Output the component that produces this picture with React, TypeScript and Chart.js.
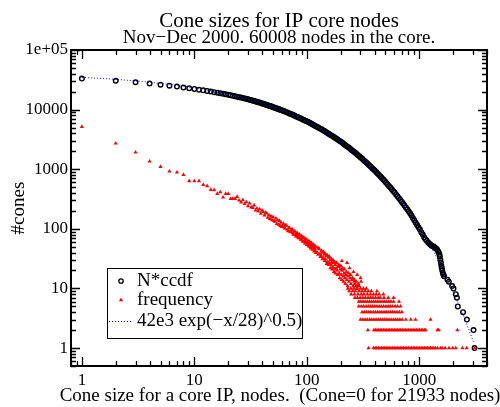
import React, { useEffect, useRef } from 'react';
import { Chart, registerables } from 'chart.js';

Chart.register(...registerables);

const titleText = 'Cone sizes for IP core nodes';
const subtitleText = 'Nov\u2212Dec 2000. 60008 nodes in the core.';
const xTitleText = 'Cone size for a core IP, nodes.  (Cone=0 for 21933 nodes)';
const yTitleText = '#cones';
const legendLabels = ['N*ccdf', 'frequency', '42e3 exp(\u2212x/28)^0.5)'];

const xTickValues = [1, 10, 100, 1000];
const xTickLabels = ['1', '10', '100', '1000'];
const yTickValues = [1, 10, 100, 1000, 10000, 100000];
const yTickLabels = ['1', '10', '100', '1000', '10000', '1e+05'];

// N*ccdf (black open circles)
const ccdfPoints: [number, number][] = [
  [1, 33200], [2, 30500], [3, 28800], [4, 27400], [5, 26200], [6, 25200], [7, 24300], [8, 23500],
  [9, 22800], [10, 22200], [11, 21600], [12, 21050], [13, 20550], [14, 20050], [15, 19600], [16, 19180],
  [17, 18780], [18, 18400], [19, 18040], [20, 17700], [21, 17380], [22, 17060], [23, 16760], [24, 16470],
  [25, 16190], [26, 15920], [27, 15660], [28, 15410], [29, 15180], [30, 14920], [31, 14670], [32, 14420],
  [33, 14180], [34, 13950], [35, 13730], [36, 13510], [37, 13310], [38, 13100], [39, 12900], [40, 12710],
  [41, 12520], [42, 12340], [43, 12160], [44, 11990], [45, 11820], [46, 11660], [47, 11500], [48, 11340],
  [49, 11190], [50, 11040], [51, 10900], [52, 10750], [53, 10610], [54, 10470], [55, 10340], [56, 10210],
  [57, 10080], [58, 9960], [60, 9720], [62, 9480], [64, 9260], [66, 9050], [68, 8840], [70, 8640],
  [72, 8450], [74, 8270], [76, 8090], [78, 7910], [80, 7700], [83, 7500], [85, 7310], [88, 7130],
  [90, 6960], [93, 6790], [95, 6630], [98, 6470], [101, 6290], [104, 6110], [107, 5950], [110, 5790],
  [113, 5640], [116, 5490], [119, 5330], [123, 5170], [126, 5020], [130, 4870], [134, 4710], [138, 4560],
  [142, 4420], [146, 4280], [150, 4130], [155, 3990], [159, 3860], [164, 3730], [169, 3600], [174, 3470],
  [179, 3350], [184, 3240], [189, 3120], [195, 3000], [201, 2880], [207, 2770], [213, 2660], [219, 2560],
  [225, 2460], [232, 2360], [239, 2260], [246, 2170], [253, 2070], [261, 1980], [268, 1900], [276, 1820],
  [284, 1730], [293, 1650], [301, 1580], [310, 1510], [319, 1430], [329, 1360], [338, 1300], [348, 1240],
  [358, 1170], [369, 1110], [380, 1050], [391, 1000], [402, 948], [414, 898], [426, 848], [439, 800],
  [452, 756], [465, 714], [479, 672], [493, 632], [507, 595], [522, 560], [537, 525], [553, 493],
  [569, 462], [586, 433], [603, 405], [621, 378], [639, 353], [658, 330], [677, 307], [697, 286],
  [717, 266], [738, 247], [760, 229], [782, 213], [805, 197], [828, 183], [852, 168], [877, 152],
  [903, 139], [929, 127], [956, 116], [984, 106], [1013, 97], [1042, 88], [1073, 80], [1104, 72],
  [1135, 67], [1165, 63], [1200, 59], [1230, 56], [1260, 54], [1290, 52], [1320, 51], [1350, 50],
  [1380, 48], [1410, 47], [1440, 45], [1470, 42], [1490, 40], [1510, 37], [1525, 34], [1540, 30],
  [1555, 27], [1570, 24], [1585, 22], [1600, 20], [1620, 18], [1640, 17], [1660, 16], [1780, 14],
  [1830, 13], [1960, 11], [2015, 10], [2110, 8], [2160, 7], [2200, 5], [2450, 4], [2650, 3],
  [3035, 2], [3100, 1],
];

// frequency (red triangles), scattered part
const freqPoints: [number, number][] = [
  [1, 5170], [2, 2720], [3, 1920], [4, 1357], [5, 1100], [6, 921], [7, 887], [8, 808], [9, 634],
  [10, 634], [11, 634], [12, 550], [13, 523], [14, 453], [15, 448], [16, 388], [17, 414], [18, 337],
  [19, 388], [20, 388], [21, 320], [22, 320], [23, 320], [24, 345], [25, 300], [26, 280], [27, 305],
  [28, 262], [29, 281], [30, 240], [31, 268], [32, 230], [33, 226], [34, 249], [35, 205], [36, 221],
  [37, 196], [38, 214], [39, 180], [40, 203], [41, 193], [42, 168], [43, 187], [44, 182], [45, 154],
  [46, 170], [47, 148], [48, 164], [49, 141], [50, 158], [51, 136], [52, 133], [53, 150], [54, 121],
  [55, 140], [56, 118], [57, 137], [58, 112], [59, 128], [60, 108], [61, 112], [62, 122], [63, 106],
  [64, 101], [65, 115], [66, 113], [67, 97], [68, 92], [69, 103], [70, 104], [71, 90], [72, 88],
  [73, 96], [74, 99], [75, 85], [76, 80], [77, 90], [78, 91], [79, 80], [80, 75], [81, 82], [82, 86],
  [83, 74], [84, 70], [85, 79], [86, 81], [87, 70], [88, 66], [89, 72], [90, 76], [91, 65], [92, 61],
  [93, 70], [94, 72], [95, 62], [96, 57], [97, 63], [98, 68], [99, 58], [100, 54], [101, 60], [102, 64],
  [103, 55], [104, 51], [105, 56], [106, 61], [107, 50], [108, 47], [109, 54], [110, 58], [111, 49],
  [112, 45], [113, 50], [114, 55], [115, 46], [116, 42], [117, 47], [118, 52], [119, 43], [120, 40],
  [123, 49], [124, 40], [126, 37], [127, 47], [129, 46], [131, 38], [132, 34], [134, 35], [135, 43],
  [137, 40], [138, 31], [140, 33], [141, 41], [143, 37], [144, 29], [146, 31], [147, 38], [149, 35],
  [150, 26], [152, 28], [153, 36], [155, 33], [156, 25], [158, 27], [159, 34], [161, 30], [162, 22],
  [164, 25], [165, 31], [167, 28], [168, 21], [170, 23], [171, 30], [173, 27], [174, 19], [176, 21],
  [177, 28], [179, 25], [180, 18], [182, 22], [184, 27], [186, 20], [188, 17], [190, 23], [192, 25],
  [194, 18], [196, 15], [198, 21], [200, 24], [202, 17], [204, 14], [205, 29], [206, 20], [208, 22],
  [210, 16], [212, 13], [214, 18], [216, 21], [218, 15], [220, 12], [222, 17], [225, 19], [227, 14],
  [228, 27], [230, 11], [232, 16], [235, 18], [237, 13], [240, 22], [242, 15], [245, 17], [247, 12],
  [252, 14], [255, 15], [258, 11], [260, 19], [263, 13], [265, 14], [268, 12], [273, 11], [276, 13],
  [279, 10], [280, 17], [282, 11], [288, 12], [291, 11], [300, 15], [304, 13],
];

// frequency, integer levels in the sparse tail (x positions per count)
const freqAt10X = [232, 246, 262, 280, 300, 318, 338];
const freqAt9X = [238, 255, 270, 292, 310, 330, 352, 375, 420];
const freqAt8X = [248, 265, 285, 305, 322, 345, 368, 392, 415, 440, 480];
const freqAt7X = [268, 282, 298, 315, 332, 350, 368, 388, 408, 430, 450, 485, 530, 590];
const freqAt6X = [290, 302, 316, 330, 345, 360, 376, 392, 410, 428, 447, 467, 488, 510, 535, 560, 590, 660];
const freqAt5X = [290, 305, 320, 336, 352, 368, 385, 402, 420, 440, 460, 482, 505, 528, 552, 578, 610, 640, 680];
const freqAt4X = [310, 325, 340, 356, 372, 390, 408, 426, 445, 465, 486, 508, 530, 555, 580, 607, 635, 665, 700];
const freqAt3X = [300, 315, 330, 345, 362, 378, 395, 413, 432, 451, 472, 493, 515, 538, 562, 588, 615, 643, 672, 705, 760, 840, 925, 1260];
const freqAt2X = [349, 395, 408, 421, 435, 449, 464, 479, 495, 511, 528, 545, 563, 582, 601, 621, 641, 662, 684, 706, 730, 754, 778, 804, 830, 858, 886, 915, 945, 976, 1008, 1041, 1075, 1110, 1140, 1450, 1490, 2180];
const freqAt1X = [354, 392, 405, 418, 432, 446, 461, 476, 492, 508, 525, 542, 560, 579, 598, 618, 638, 659, 681, 703, 726, 750, 775, 801, 827, 855, 883, 912, 942, 973, 1005, 1038, 1072, 1108, 1144, 1182, 1221, 1261, 1302, 1345, 1390, 1450, 1540, 1600, 1700, 1840, 1980, 2110, 2420, 2640, 3100];

// fit 42e3 exp(-(x/28)^0.5) (blue dotted)
const fitX = [1, 2, 3, 5, 7, 10, 15, 20, 30, 50, 70, 100, 150, 200, 300, 400, 500, 700, 1000, 1200, 1500, 1800, 2000, 2500, 3050];
const fitY = [34770, 32150, 30280, 27520, 25470, 23100, 20200, 18040, 14920, 11040, 8640, 6346, 4150, 2902, 1591, 959, 614, 283, 106.6, 60.2, 27.8, 13.8, 8.95, 3.31, 1.23];

const FONT = '"Liberation Serif", "Times New Roman", serif';

function logTicks(min: number, max: number): [number, boolean][] {
  const out: [number, boolean][] = [];
  for (let e = -1; e <= 5; e++) {
    for (let m = 1; m <= 9; m++) {
      const v = m * Math.pow(10, e);
      if (v >= min * 0.999 && v <= max * 1.001) out.push([v, m === 1]);
    }
  }
  return out;
}

export default function App() {
  const ref = useRef<HTMLCanvasElement>(null);

  useEffect(() => {
    const canvas = ref.current;
    if (!canvas) return;

    const rows: [number[], number][] = [
      [freqAt1X, 1], [freqAt2X, 2], [freqAt3X, 3], [freqAt4X, 4], [freqAt5X, 5],
      [freqAt6X, 6], [freqAt7X, 7], [freqAt8X, 8], [freqAt9X, 9], [freqAt10X, 10],
    ];
    const freqData = freqPoints.map(([x, y]) => ({ x, y }));
    rows.forEach(([xs, lvl]) => xs.forEach((x) => freqData.push({ x, y: lvl })));

    const frame = {
      id: 'frame',
      afterDraw(chart: any) {
        const { ctx, chartArea } = chart;
        const { left, right, top, bottom } = chartArea;
        const xs = chart.scales.x;
        const ys = chart.scales.y;
        ctx.save();
        ctx.strokeStyle = '#000';
        ctx.lineWidth = 1.3;
        ctx.beginPath();
        for (const [v, major] of logTicks(xs.min, xs.max)) {
          const px = Math.round(xs.getPixelForValue(v)) + 0.5;
          const len = major ? 9 : 5;
          ctx.moveTo(px, bottom); ctx.lineTo(px, bottom - len);
          ctx.moveTo(px, top); ctx.lineTo(px, top + len);
        }
        for (const [v, major] of logTicks(ys.min, ys.max)) {
          const py = Math.round(ys.getPixelForValue(v)) + 0.5;
          const len = major ? 9 : 5;
          ctx.moveTo(left, py); ctx.lineTo(left + len, py);
          ctx.moveTo(right, py); ctx.lineTo(right - len, py);
        }
        ctx.stroke();
        ctx.lineWidth = 2;
        ctx.strokeRect(left, top, right - left, bottom - top);

        // titles
        ctx.fillStyle = '#000';
        ctx.textAlign = 'center';
        ctx.textBaseline = 'alphabetic';
        const cx = (left + right) / 2;
        ctx.font = `21px ${FONT}`;
        ctx.fillText(titleText, cx, 27);
        ctx.font = `19px ${FONT}`;
        ctx.fillText(subtitleText, cx, 43);
        ctx.fillText(xTitleText, cx + 1, 401);
        ctx.save();
        ctx.translate(19, (top + bottom) / 2);
        ctx.rotate(-Math.PI / 2);
        ctx.textBaseline = 'middle';
        ctx.fillText(yTitleText, 0, 0);
        ctx.restore();

        // legend
        const bx = 107.5, by = 268.5, bw = 195, bh = 70;
        ctx.fillStyle = '#fff';
        ctx.fillRect(bx, by, bw, bh);
        ctx.strokeStyle = '#000';
        ctx.lineWidth = 1;
        ctx.strokeRect(bx, by, bw, bh);
        const rowsY = [281, 300, 321];
        // circle
        ctx.beginPath();
        ctx.arc(121, rowsY[0], 2.2, 0, Math.PI * 2);
        ctx.lineWidth = 1.3;
        ctx.stroke();
        // triangle
        const r = 2.4;
        ctx.beginPath();
        ctx.moveTo(121, rowsY[1] - r);
        ctx.lineTo(121 + r * 0.866, rowsY[1] + r * 0.5);
        ctx.lineTo(121 - r * 0.866, rowsY[1] + r * 0.5);
        ctx.closePath();
        ctx.fillStyle = '#ff0000';
        ctx.fill();
        // dotted
        ctx.beginPath();
        ctx.setLineDash([1, 2]);
        ctx.strokeStyle = '#0000ff';
        ctx.lineWidth = 1;
        ctx.moveTo(109, rowsY[2] + 0.5);
        ctx.lineTo(132, rowsY[2] + 0.5);
        ctx.stroke();
        ctx.setLineDash([]);
        ctx.fillStyle = '#000';
        ctx.textAlign = 'left';
        ctx.textBaseline = 'middle';
        ctx.font = `19px ${FONT}`;
        legendLabels.forEach((t, i) => ctx.fillText(t, 137, rowsY[i]));
        ctx.restore();
      },
    };

    const chart = new Chart(canvas, {
      type: 'scatter',
      data: {
        datasets: [
          {
            type: 'line',
            label: legendLabels[2],
            data: fitX.map((x, i) => ({ x, y: fitY[i] })),
            borderColor: '#0000ff',
            borderWidth: 1,
            borderDash: [1, 2],
            pointRadius: 0,
            cubicInterpolationMode: 'monotone',
            fill: false,
          } as any,
          {
            label: legendLabels[1],
            data: freqData,
            pointStyle: 'triangle',
            pointRadius: 2.4,
            borderWidth: 0,
            backgroundColor: '#ff0000',
            borderColor: '#ff0000',
          },
          {
            label: legendLabels[0],
            data: ccdfPoints.map(([x, y]) => ({ x, y })),
            pointStyle: 'circle',
            pointRadius: 2.3,
            borderWidth: 1.4,
            borderColor: '#000000',
            backgroundColor: 'rgba(0,0,0,0)',
          },
        ],
      },
      options: {
        responsive: false,
        animation: false,
        events: [],
        layout: { padding: { top: 50, right: 13, bottom: 0, left: 0 } },
        plugins: {
          legend: { display: false },
          title: { display: false },
          tooltip: { enabled: false },
        },
        scales: {
          x: {
            type: 'logarithmic',
            min: 0.8,
            max: 4000,
            grid: { display: false, drawTicks: false },
            border: { display: false },
            ticks: {
              autoSkip: false,
              maxRotation: 0,
              padding: 4,
              color: '#000',
              font: { family: FONT, size: 17 },
              callback: (_v: any, i: number) => xTickLabels[i],
            },
            afterBuildTicks: (s: any) => { s.ticks = xTickValues.map((value) => ({ value })); },
            afterFit: (s: any) => { s.height = 41; },
          },
          y: {
            type: 'logarithmic',
            min: 0.5,
            max: 100000,
            grid: { display: false, drawTicks: false },
            border: { display: false },
            ticks: {
              autoSkip: false,
              padding: 3,
              color: '#000',
              font: { family: FONT, size: 17 },
              callback: (_v: any, i: number) => yTickLabels[i],
            },
            afterBuildTicks: (s: any) => { s.ticks = yTickValues.map((value) => ({ value })); },
            afterFit: (s: any) => { s.width = 71; },
          },
        },
      },
      plugins: [frame],
    });

    return () => chart.destroy();
  }, []);

  return (
    <div style={{ position: 'absolute', left: 0, top: 0, width: 500, height: 407, background: '#fff' }}>
      <canvas ref={ref} width={500} height={407} style={{ display: 'block', width: 500, height: 407 }} />
    </div>
  );
}
